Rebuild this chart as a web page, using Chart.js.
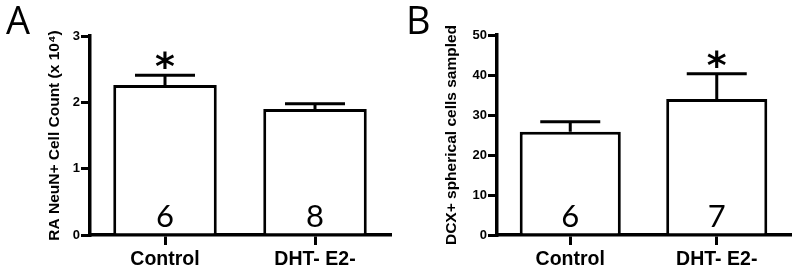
<!DOCTYPE html>
<html lang="en">
<head>
<meta charset="UTF-8">
<script src="https://cdn.jsdelivr.net/npm/chart.js"></script>
<title>NeuN / DCX</title>
<style>
  body { margin: 0; background: #fff; }
  .painel { position: absolute; top: 0; width: 400px; height: 267px; }
  .letra { position: absolute; top: 0; font: 38px/1 "Open Sans", sans-serif; color: #000; }
</style>
</head>
<body>
<div class="painel" style="left:0">
  <canvas id="graficoA" width="400" height="267"></canvas>
  <div class="letra" style="left:6px">A</div>
</div>
<div class="painel" style="left:400px">
  <canvas id="graficoB" width="400" height="267"></canvas>
  <div class="letra" style="left:6px">B</div>
</div>

<script>
const categorias = ['Control', 'DHT- E2-'];

// painel A - RA NeuN+ (x 10^4)
const neunMedia = [2.26, 1.90];
const neunErro = [0.15, 0.08];
const neunN = ['6', '8'];
const neunSig = [true, false];
const neunTicks = [0, 1, 2, 3];

// painel B - DCX+ spherical cells
const dcxMedia = [25.8, 34.0];
const dcxErro = [2.5, 6.3];
const dcxN = ['6', '7'];
const dcxSig = [false, true];
const dcxTicks = [0, 10, 20, 30, 40, 50];

const extrasBarra = {
  id: 'extrasBarra',
  afterDatasetsDraw(chart, args, opts) {
    const ctx = chart.ctx;
    const y = chart.scales.y;
    const meta = chart.getDatasetMeta(0);
    meta.data.forEach((barra, i) => {
      const topo = y.getPixelForValue(opts.media[i] + opts.erro[i]);
      ctx.save();
      ctx.strokeStyle = '#000';
      ctx.lineWidth = 3;
      ctx.beginPath();
      ctx.moveTo(barra.x, barra.y);
      ctx.lineTo(barra.x, topo);
      ctx.moveTo(barra.x - 30, topo);
      ctx.lineTo(barra.x + 30, topo);
      ctx.stroke();

      ctx.fillStyle = '#000';
      ctx.textAlign = 'center';
      ctx.textBaseline = 'alphabetic';
      ctx.font = '31px Lato, sans-serif';
      ctx.fillText(opts.n[i], barra.x, y.getPixelForValue(0) - 8);

      if (opts.sig[i]) {
        // asterisco de significancia
        ctx.font = 'bold 38px "DejaVu Sans", sans-serif';
        ctx.fillText('*', barra.x, topo + 4);
      }
      ctx.restore();
    });
  }
};

function montarPainel(id, media, erro, n, sig, ticks, tituloY, esquerda, larguraY, topo) {
  return new Chart(document.getElementById(id), {
    type: 'bar',
    data: {
      labels: categorias,
      datasets: [{
        data: media,
        backgroundColor: '#fff',
        borderColor: '#000',
        borderWidth: 3,
        barPercentage: 0.69,
        categoryPercentage: 1
      }]
    },
    options: {
      responsive: false,
      animation: false,
      layout: { padding: { left: esquerda, right: 10, top: topo, bottom: 0 } },
      plugins: {
        legend: { display: false },
        tooltip: { enabled: false },
        extrasBarra: { media: media, erro: erro, n: n, sig: sig }
      },
      scales: {
        x: {
          offset: true,
          afterFit: s => { s.height = 32; },
          border: { display: true, color: '#000', width: 3.5 },
          grid: { offset: false, drawOnChartArea: false, drawTicks: true, tickLength: 10, color: '#000', lineWidth: 3 },
          ticks: { color: '#000', padding: 3, font: { family: 'Liberation Sans', size: 19.5, weight: 'bold' } }
        },
        y: {
          min: ticks[0],
          max: ticks[ticks.length - 1],
          afterFit: s => { s.width = larguraY; },
          afterBuildTicks: s => { s.ticks = ticks.map(v => ({ value: v })); },
          border: { display: true, color: '#000', width: 3.5 },
          grid: { drawOnChartArea: false, drawTicks: true, tickLength: 9, color: '#000', lineWidth: 3 },
          ticks: { color: '#000', padding: 1, font: { family: 'Liberation Sans', size: 13, weight: 'bold' } },
          title: {
            display: true,
            text: tituloY,
            color: '#000',
            padding: { top: 4, bottom: 4 },
            font: { family: 'Liberation Sans', size: 15.5, weight: 'bold' }
          }
        }
      }
    },
    plugins: [extrasBarra]
  });
}

montarPainel('graficoA', neunMedia, neunErro, neunN, neunSig, neunTicks,
  'RA NeuN+ Cell Count (x 10\u2074)', 41, 49, 36);
montarPainel('graficoB', dcxMedia, dcxErro, dcxN, dcxSig, dcxTicks,
  'DCX+ spherical cells sampled', 38, 59, 35);
</script>
</body>
</html>
